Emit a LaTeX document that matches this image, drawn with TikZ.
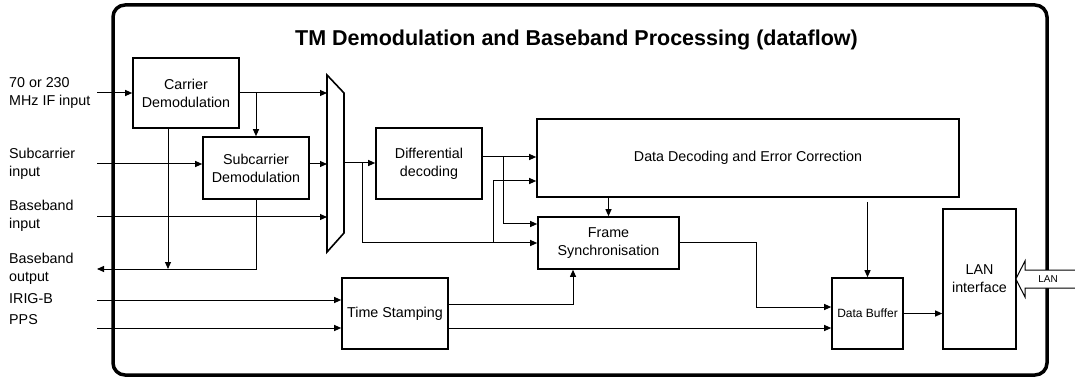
\documentclass[tikz,border=0pt]{standalone}
\usepackage{fontspec}
\setmainfont{Liberation Sans}
\usetikzlibrary{calc}
\usetikzlibrary{arrows.meta}
\newcommand{\lineColor}{black}
\newcommand{\boxWidth}{1.6pt}
\newcommand{\wireWidth}{1pt}
\newcommand{\blockFont}{\fontsize{14.3}{18}\selectfont}
\tikzset{block/.style = {draw=\lineColor, line width=\boxWidth, align=center, inner sep=0pt, font=\blockFont}}
\tikzset{wire/.style = {\lineColor, line width=\wireWidth}}
\tikzset{sig/.style = {wire, -{Triangle[length=7pt,width=6pt]}}}
\tikzset{sideLabel/.style = {anchor=west, align=left, inner sep=0pt, font=\blockFont}}
\tikzset{frame/.style = {draw=\lineColor, line width=3.5pt, rounded corners=12pt}}

\begin{document}
\begin{tikzpicture}[x=1pt, y=-1pt]
    \useasboundingbox (0,0) rectangle (1075,379);
    \draw[frame] (113,5) rectangle (1047,375);
    \node[font=\bfseries\fontsize{21.5}{24}\selectfont] (title) at (576.5,40)
        {TM Demodulation and Baseband Processing (dataflow)};

    % blocks
    \node[block, minimum width=106pt, minimum height=70pt] (carrier) at (186,93) {Carrier\\Demodulation};
    \node[block, minimum width=106pt, minimum height=62pt] (subcarrier) at (256,168) {Subcarrier\\Demodulation};
    \node[block, minimum width=106pt, minimum height=71pt] (diffdec) at (429,163.5) {Differential\\decoding};
    \node[block, minimum width=422pt, minimum height=78pt] (datadec) at (748,158) {Data Decoding and Error Correction};
    \node[block, minimum width=141pt, minimum height=52pt] (framesync) at (608.5,243) {Frame\\Synchronisation};
    \node[block, minimum width=106pt, minimum height=71pt] (timestamp) at (395,313.5) {Time Stamping};
    \node[block, minimum width=71pt, minimum height=71pt, font=\fontsize{12}{14}\selectfont] (databuf) at (867.5,313.5) {Data Buffer};
    \node[block, minimum width=73pt, minimum height=140pt] (lan) at (979.5,279) {LAN\\interface};

    % multiplexer
    \coordinate (M1) at (327,75);
    \coordinate (M2) at (344,93);
    \coordinate (M3) at (344,233);
    \coordinate (M4) at (327,252);
    \draw[wire, line width=\boxWidth] (M1) -- (M2) -- (M3) -- (M4) -- cycle;
    \coordinate (MO) at (344,163);

    % inputs and outputs on the left
    \foreach \n/\y/\ly/\t in {ifIn/93/92.5/{70 or 230\\MHz IF input},
            subIn/164/163.5/{Subcarrier\\input}, bbIn/217/216/{Baseband\\input},
            bbOut/269/268.5/{Baseband\\output}, irig/300/299/{IRIG-B}, pps/328/320/{PPS}}
    {
        \coordinate (\n) at (97,\y);
        \node[sideLabel] (L-\n) at (9,\ly) {\t};
    }

    \draw[sig] (ifIn) -- (carrier.west |- ifIn);
    \draw[sig] (carrier.east) -- (carrier.east -| M1);
    \draw[sig] (subcarrier.north |- carrier.east) -- (subcarrier.north);
    \draw[sig] (subIn) -- (subIn -| subcarrier.west);
    \draw[sig] (subIn -| subcarrier.east) -- (subIn -| M1);
    \draw[sig] (bbIn) -- (bbIn -| M1);
    \draw[sig] (subcarrier.south) |- (bbOut);
    \coordinate (CT) at ([xshift=-18pt]carrier.south);
    \draw[sig] (CT) -- (CT |- bbOut);

    % decoding chain
    \coordinate (J1) at ([xshift=18pt]MO);
    \draw[sig] (MO) -- (MO -| diffdec.west);
    \draw[sig] (J1) |- (framesync.west);
    \coordinate (DO) at ([yshift=6.5pt]diffdec.east);
    \coordinate (J2) at ([xshift=21pt]DO);
    \draw[sig] (DO) -- (DO -| datadec.west);
    \draw[sig] (J2) |- ([yshift=19pt]framesync.west);
    \coordinate (J3) at ([xshift=149pt]MO |- framesync.west);
    \draw[sig] (J3) |- ([yshift=-23pt]datadec.west);
    \draw[sig] (framesync.north |- datadec.south) -- (framesync.north);

    % time stamping and buffer
    \draw[sig] (irig) -- (irig -| timestamp.west);
    \draw[sig] (pps) -- (pps -| timestamp.west);
    \coordinate (TA) at ([yshift=9.5pt]timestamp.east);
    \coordinate (TB) at ([yshift=-14.5pt]timestamp.east);
    \draw[sig] (TA) -| ([xshift=-35.5pt]framesync.south);
    \draw[sig] (TB) -- (TB -| databuf.west);
    \draw[sig] (framesync.east) -- ++(77,0) |- ([yshift=6.5pt]databuf.west);
    \coordinate (DB) at ([yshift=-4pt]datadec.south -| databuf.north);
    \draw[sig] (DB) -- (databuf.north);
    \draw[sig] (databuf.east) -- (databuf.east -| lan.west);

    % LAN port
    \draw[wire, fill=white] (1075,270) -- (1025,270) -- (1025,261) -- ([xshift=-1pt]lan.east)
        -- (1025,297) -- (1025,288) -- (1075,288);
    \node[font=\fontsize{10}{12}\selectfont] (lanTag) at (1048,279) {LAN};
\end{tikzpicture}
\end{document}
